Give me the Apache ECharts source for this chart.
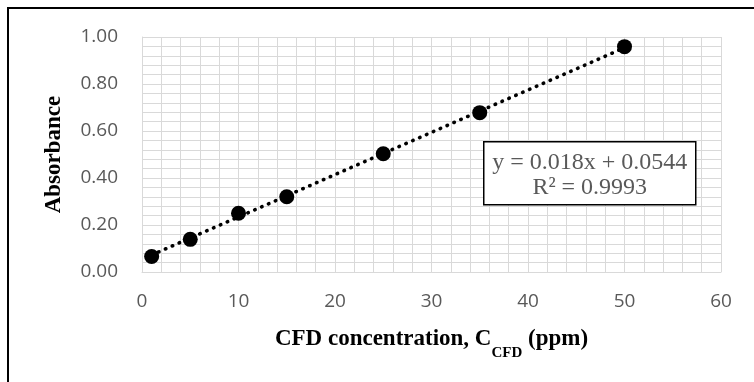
<!DOCTYPE html>
<html>
<head>
<meta charset="utf-8">
<style>
  html, body { margin: 0; padding: 0; background: #fff; }
  #chart { width: 754px; height: 382px; }
</style>
<script src="https://cdn.jsdelivr.net/npm/echarts@6/dist/echarts.min.js"></script>
</head>
<body>
<div id="chart"></div>
<script>
// Calibration standards: CFD concentration (ppm) vs measured absorbance
const concentrations = [1, 5, 10, 15, 25, 35, 50];
const absorbance = [0.066, 0.139, 0.250, 0.320, 0.503, 0.678, 0.959];

// Linear least-squares fit shown in the equation box
const slope = 0.018;
const intercept = 0.0544;
const rSquared = 0.9993;

// Axis ranges and tick steps
const xTicks = [0, 60, 10];
const yTicks = [0, 1, 0.2];

const trendX = [concentrations[0], concentrations[concentrations.length - 1]];
const trendData = trendX.map(x => [x, slope * x + intercept]);
const pointData = concentrations.map((x, i) => [x, absorbance[i]]);

const chart = echarts.init(document.getElementById('chart'), null, { renderer: 'canvas' });

const gridLine = '#d9d9d9';
const tickFont = { color: '#595959', fontFamily: 'Open Sans', fontSize: 19 };

chart.setOption({
  animation: false,
  backgroundColor: '#ffffff',
  grid: { left: 142, right: 33, top: 37, bottom: 110 },
  xAxis: {
    type: 'value',
    min: xTicks[0], max: xTicks[1], interval: xTicks[2],
    name: '{b|CFD concentration, C}{s|CFD}{b| (ppm)}',
    nameLocation: 'middle',
    nameGap: 56,
    nameTextStyle: {
      rich: {
        b: { fontFamily: 'Liberation Serif', fontWeight: 'bold', fontSize: 23, color: '#000' },
        s: { fontFamily: 'Liberation Serif', fontWeight: 'bold', fontSize: 15, color: '#000', verticalAlign: 'bottom', padding: [0, 0, -10, 0] }
      }
    },
    axisLine: { show: true, lineStyle: { color: gridLine, width: 1 } },
    axisTick: { show: false },
    axisLabel: Object.assign({ margin: 20 }, tickFont),
    splitLine: { show: true, lineStyle: { color: gridLine, width: 1 } },
    minorTick: { show: false, splitNumber: 5 },
    minorSplitLine: { show: true, lineStyle: { color: gridLine, width: 1 } }
  },
  yAxis: {
    type: 'value',
    min: yTicks[0], max: yTicks[1], interval: yTicks[2],
    name: 'Absorbance',
    nameLocation: 'middle',
    nameGap: 76,
    nameTextStyle: { fontFamily: 'Liberation Serif', fontWeight: 'bold', fontSize: 23, color: '#000' },
    axisLine: { show: true, lineStyle: { color: gridLine, width: 1 } },
    axisTick: { show: false },
    axisLabel: Object.assign({ margin: 24, formatter: v => v.toFixed(2) }, tickFont),
    splitLine: { show: true, lineStyle: { color: gridLine, width: 1 } },
    minorTick: { show: false, splitNumber: 5 },
    minorSplitLine: { show: true, lineStyle: { color: gridLine, width: 1 } }
  },
  series: [
    {
      name: 'Linear fit',
      type: 'line',
      data: trendData,
      showSymbol: false,
      symbol: 'none',
      lineStyle: { color: '#000', width: 3.6, type: [0.5, 7], cap: 'round' },
      z: 2
    },
    {
      name: 'Absorbance',
      type: 'scatter',
      data: pointData,
      symbol: 'circle',
      symbolSize: 15,
      itemStyle: { color: '#000', opacity: 1 },
      z: 3
    }
  ],
  graphic: [
    {
      type: 'rect',
      z: 100,
      shape: { x: 8, y: 8, width: 800, height: 420 },
      style: { fill: 'none', stroke: '#000', lineWidth: 2 },
      silent: true
    },
    {
      type: 'group',
      z: 100,
      left: 483, top: 141,
      children: [
        {
          type: 'rect',
          z: 100,
          shape: { x: 0, y: 0, width: 212, height: 63 },
          style: { fill: '#fff', stroke: '#000', lineWidth: 1.5 }
        },
        {
          type: 'text',
          z: 101,
          x: 106, y: 21,
          style: {
            text: 'y = ' + slope + 'x + ' + intercept,
            fontFamily: 'Liberation Serif', fontSize: 24, fill: '#595959',
            textAlign: 'center', textVerticalAlign: 'middle'
          }
        },
        {
          type: 'text',
          z: 101,
          x: 106, y: 46,
          style: {
            text: 'R\u00B2 = ' + rSquared,
            fontFamily: 'Liberation Serif', fontSize: 24, fill: '#595959',
            textAlign: 'center', textVerticalAlign: 'middle'
          }
        }
      ]
    }
  ]
});
</script>
</body>
</html>
